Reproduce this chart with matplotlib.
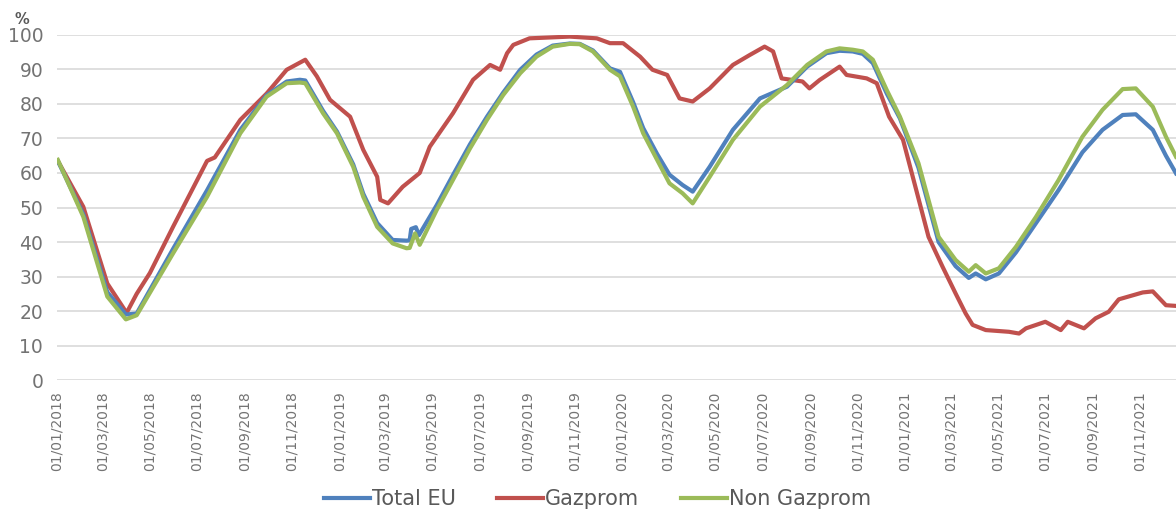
"""EU gas storage filling level: total, Gazprom-operated and non-Gazprom sites."""

import matplotlib

matplotlib.use("Agg")
import matplotlib.dates as mdates
import matplotlib.pyplot as plt
import pandas as pd

# Values (percent full)
total_dates = [
    "2018-01-02", "2018-02-04", "2018-03-07", "2018-03-31", "2018-04-14", "2018-05-31",
    "2018-07-14", "2018-08-26", "2018-09-29", "2018-10-25", "2018-11-11", "2018-11-18",
    "2018-12-11", "2018-12-29", "2019-01-19", "2019-02-01", "2019-02-19", "2019-03-11",
    "2019-03-29", "2019-04-02", "2019-04-04", "2019-04-10", "2019-04-14", "2019-05-07",
    "2019-05-28", "2019-06-19", "2019-07-11", "2019-08-01", "2019-08-23", "2019-09-13",
    "2019-10-04", "2019-10-26", "2019-11-08", "2019-11-25", "2019-12-17", "2019-12-30",
    "2020-01-16", "2020-01-29", "2020-02-16", "2020-03-03", "2020-03-20", "2020-04-02",
    "2020-04-24", "2020-05-24", "2020-06-28", "2020-08-02", "2020-08-28", "2020-09-22",
    "2020-10-09", "2020-10-26", "2020-11-08", "2020-11-21", "2020-12-09", "2020-12-26",
    "2021-01-19", "2021-02-14", "2021-03-08", "2021-03-25", "2021-04-03", "2021-04-16",
    "2021-05-03", "2021-05-25", "2021-06-20", "2021-07-19", "2021-08-19", "2021-09-14",
    "2021-10-10", "2021-10-27", "2021-11-18", "2021-12-05", "2021-12-18",
]
total_eu = [
    63.5, 48.0, 25.5, 19.0, 19.3, 38.0,
    55.0, 72.5, 82.5, 86.5, 87.0, 86.8,
    78.0, 72.0, 62.5, 54.0, 45.5, 40.6,
    40.4, 40.5, 43.8, 44.3, 42.0, 50.7,
    59.4, 68.3, 76.3, 83.3, 89.9, 94.3,
    96.9, 97.5, 97.4, 95.5, 90.3, 89.3,
    80.5, 73.0, 65.5, 59.5, 56.5, 54.6,
    61.8, 72.5, 81.6, 85.0, 90.8, 94.7,
    95.4, 95.2, 94.5, 91.8, 83.0, 75.8,
    61.5, 40.0, 33.0, 29.6, 30.9, 29.2,
    30.9, 37.0, 45.5, 55.0, 66.0, 72.5,
    76.8, 77.0, 72.5, 65.0, 59.9,
]

gazprom_dates = [
    "2018-01-02", "2018-02-04", "2018-03-07", "2018-04-01", "2018-04-14", "2018-05-01",
    "2018-05-31", "2018-07-14", "2018-07-24", "2018-08-26", "2018-09-29", "2018-10-25",
    "2018-11-18", "2018-12-03", "2018-12-20", "2019-01-15", "2019-02-01", "2019-02-19",
    "2019-02-23", "2019-03-05", "2019-03-24", "2019-04-15", "2019-04-28", "2019-05-28",
    "2019-06-23", "2019-07-15", "2019-07-28", "2019-08-06", "2019-08-14", "2019-09-04",
    "2019-10-26", "2019-11-30", "2019-12-17", "2020-01-03", "2020-01-25", "2020-02-10",
    "2020-02-29", "2020-03-16", "2020-04-02", "2020-04-24", "2020-05-24", "2020-06-15",
    "2020-07-04", "2020-07-15", "2020-07-26", "2020-08-22", "2020-08-31", "2020-09-13",
    "2020-10-09", "2020-10-18", "2020-11-13", "2020-11-26", "2020-12-12", "2020-12-30",
    "2021-01-15", "2021-02-01", "2021-02-19", "2021-03-08", "2021-03-21", "2021-03-30",
    "2021-04-16", "2021-05-16", "2021-05-29", "2021-06-07", "2021-07-02", "2021-07-22",
    "2021-07-31", "2021-08-21", "2021-09-05", "2021-09-22", "2021-10-05", "2021-11-05",
    "2021-11-18", "2021-12-05", "2021-12-18",
]
gazprom = [
    63.5, 50.2, 28.0, 19.5, 25.0, 31.0,
    44.4, 63.5, 64.5, 75.4, 83.0, 89.9,
    92.8, 88.0, 81.2, 76.3, 66.7, 58.9,
    52.2, 51.2, 56.0, 60.0, 67.6, 77.3,
    87.0, 91.3, 89.9, 94.7, 97.1, 99.0,
    99.5, 99.0, 97.6, 97.6, 93.7, 89.9,
    88.4, 81.6, 80.7, 84.5, 91.3, 94.2,
    96.6, 95.2, 87.4, 86.5, 84.5, 86.9,
    90.8, 88.4, 87.4, 86.0, 76.3, 69.6,
    56.0, 41.5, 32.9, 25.1, 19.3, 16.0,
    14.5, 14.0, 13.5, 15.0, 16.9, 14.5,
    16.9, 15.0, 17.9, 19.8, 23.4, 25.4,
    25.7, 21.7, 21.5,
]

non_gazprom_dates = [
    "2018-01-02", "2018-02-04", "2018-03-07", "2018-03-31", "2018-04-14", "2018-05-31",
    "2018-07-14", "2018-08-26", "2018-09-29", "2018-10-25", "2018-11-11", "2018-11-18",
    "2018-12-11", "2018-12-29", "2019-01-19", "2019-02-01", "2019-02-19", "2019-03-11",
    "2019-03-29", "2019-04-02", "2019-04-09", "2019-04-15", "2019-05-07", "2019-05-28",
    "2019-06-19", "2019-07-11", "2019-08-01", "2019-08-23", "2019-09-13", "2019-10-04",
    "2019-10-26", "2019-11-08", "2019-11-25", "2019-12-17", "2019-12-30", "2020-01-16",
    "2020-01-29", "2020-02-16", "2020-03-03", "2020-03-20", "2020-04-02", "2020-04-24",
    "2020-05-24", "2020-06-28", "2020-08-02", "2020-08-28", "2020-09-22", "2020-10-09",
    "2020-10-26", "2020-11-08", "2020-11-21", "2020-12-09", "2020-12-26", "2021-01-19",
    "2021-02-14", "2021-03-08", "2021-03-25", "2021-04-03", "2021-04-16", "2021-05-03",
    "2021-05-25", "2021-06-20", "2021-07-19", "2021-08-19", "2021-09-14", "2021-10-10",
    "2021-10-27", "2021-11-18", "2021-12-05", "2021-12-18",
]
non_gazprom = [
    63.8, 47.3, 24.2, 17.6, 18.8, 36.7,
    53.1, 71.5, 82.1, 86.0, 86.2, 86.0,
    77.3, 71.5, 61.8, 53.1, 44.4, 39.6,
    38.2, 38.3, 42.5, 39.2, 49.3, 58.0,
    67.1, 75.4, 82.6, 88.9, 93.7, 96.6,
    97.4, 97.3, 95.2, 89.9, 88.0, 79.2,
    71.5, 63.8, 57.0, 54.1, 51.2, 58.9,
    69.6, 79.2, 85.5, 91.3, 95.2, 96.1,
    95.7, 95.2, 92.8, 84.0, 76.3, 62.8,
    41.5, 34.8, 31.4, 33.3, 30.9, 32.4,
    38.6, 47.3, 57.9, 70.5, 78.3, 84.3,
    84.5, 79.2, 70.5, 64.7,
]

BLUE, RED, GREEN = "#4F81BD", "#C0504D", "#9BBB59"
TEXT_GREY = "#595959"
TICK_GREY = "#737373"

fig = plt.figure(figsize=(11.76, 5.13), dpi=100)
ax = fig.add_axes([0.0485, 0.259, 0.9515, 0.673])

ax.plot(pd.to_datetime(total_dates), total_eu, color=BLUE, lw=3, label="Total EU",
        solid_joinstyle="round", zorder=3)
ax.plot(pd.to_datetime(gazprom_dates), gazprom, color=RED, lw=3, label="Gazprom",
        solid_joinstyle="round", zorder=2)
ax.plot(pd.to_datetime(non_gazprom_dates), non_gazprom, color=GREEN, lw=3,
        label="Non Gazprom", solid_joinstyle="round", zorder=4)

ax.set_ylim(0, 100)
ax.set_yticks(range(0, 101, 10))
ax.set_xlim(pd.Timestamp("2018-01-01"), pd.Timestamp("2021-12-18"))
ax.xaxis.set_major_locator(mdates.MonthLocator(bymonth=[1, 3, 5, 7, 9, 11]))
ax.xaxis.set_major_formatter(mdates.DateFormatter("%d/%m/%Y"))

ax.grid(axis="y", color="#D9D9D9", lw=1.2)
ax.set_axisbelow(True)
for spine in ax.spines.values():
    spine.set_visible(False)
ax.tick_params(axis="both", length=0, colors=TICK_GREY)
ax.tick_params(axis="y", labelsize=13.5, pad=10)
ax.tick_params(axis="x", labelsize=10, pad=8, labelrotation=90)

fig.text(0.019, 0.962, "%", fontsize=10.5, fontweight="bold", color=TEXT_GREY,
         ha="center", va="center")

fig.legend(loc="center", bbox_to_anchor=(0.508, 0.027), ncol=3, frameon=False,
           fontsize=15, handlelength=2.2, handletextpad=0.1, columnspacing=2.0,
           labelcolor=TEXT_GREY)

fig.savefig("out.png", dpi=100)
